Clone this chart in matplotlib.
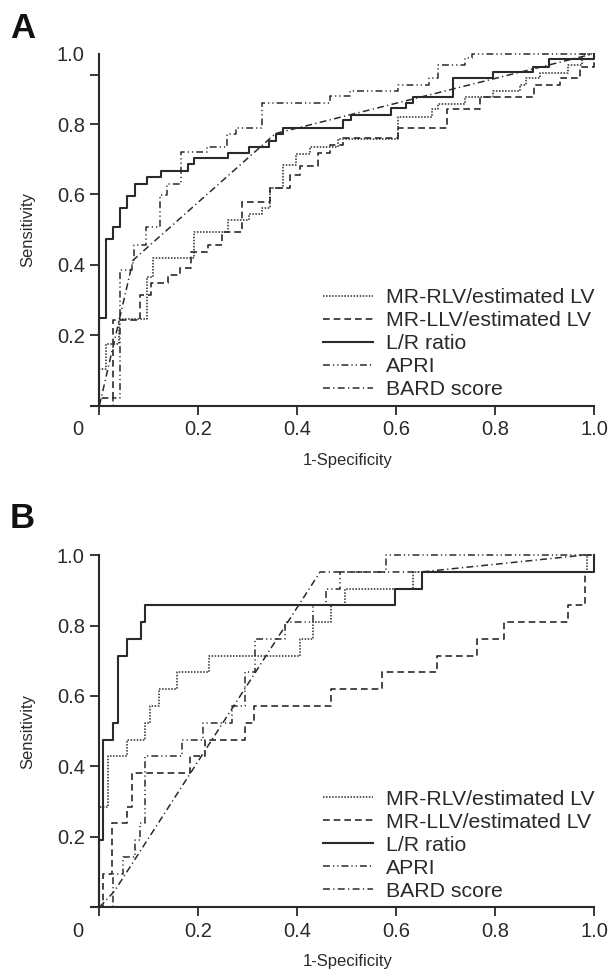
import matplotlib
matplotlib.use("Agg")
import matplotlib.pyplot as plt
from matplotlib.transforms import ScaledTranslation

plt.rcParams['font.family'] = ['Liberation Sans', 'DejaVu Sans']

labels = ["MR-RLV/estimated LV", "MR-LLV/estimated LV", "L/R ratio", "APRI", "BARD score"]
xticks = [0, 0.2, 0.4, 0.6, 0.8, 1.0]
xticklabels = ["0", "0.2", "0.4", "0.6", "0.8", "1.0"]
yticks = [0.2, 0.4, 0.6, 0.8, 1.0]
yticklabels = ["0.2", "0.4", "0.6", "0.8", "1.0"]

# panel A: (1-specificity, sensitivity) corners of each staircase
a_rlv_x = [0, 0, 0.014, 0.040, 0.097, 0.109, 0.192, 0.260, 0.302, 0.329, 0.345, 0.371, 0.398, 0.425,
           0.482, 0.604, 0.672, 0.685, 0.739, 0.796, 0.850, 0.862, 0.891, 0.948, 0.975, 1.0]
a_rlv_y = [0, 0.105, 0.176, 0.245, 0.366, 0.418, 0.494, 0.527, 0.543, 0.560, 0.617, 0.683, 0.716, 0.736,
           0.756, 0.821, 0.844, 0.858, 0.877, 0.893, 0.911, 0.930, 0.946, 0.968, 1.0, 1.0]
a_llv_x = [0, 0, 0.028, 0.082, 0.104, 0.139, 0.163, 0.185, 0.220, 0.248, 0.289, 0.345, 0.385, 0.405,
           0.442, 0.466, 0.493, 0.604, 0.702, 0.770, 0.879, 0.931, 0.972, 1.0]
a_llv_y = [0, 0.02, 0.243, 0.314, 0.347, 0.371, 0.390, 0.437, 0.456, 0.493, 0.579, 0.617, 0.654, 0.680,
           0.719, 0.740, 0.759, 0.790, 0.842, 0.877, 0.911, 0.932, 0.963, 1.0]
a_lr_x = [0, 0, 0.014, 0.028, 0.041, 0.056, 0.071, 0.097, 0.125, 0.179, 0.192, 0.260, 0.302, 0.343,
          0.356, 0.372, 0.492, 0.508, 0.589, 0.620, 0.633, 0.714, 0.796, 0.877, 0.908, 1.0]
a_lr_y = [0, 0.25, 0.474, 0.508, 0.561, 0.596, 0.630, 0.650, 0.667, 0.685, 0.703, 0.719, 0.735, 0.752,
          0.773, 0.790, 0.811, 0.825, 0.845, 0.861, 0.876, 0.930, 0.949, 0.963, 0.984, 1.0]
a_apri_x = [0, 0.028, 0.041, 0.065, 0.070, 0.095, 0.123, 0.137, 0.165, 0.217, 0.257, 0.277, 0.329,
            0.466, 0.507, 0.604, 0.666, 0.685, 0.739, 0.753, 1.0]
a_apri_y = [0, 0.02, 0.385, 0.404, 0.456, 0.508, 0.598, 0.630, 0.720, 0.736, 0.773, 0.790, 0.860,
            0.879, 0.894, 0.911, 0.930, 0.968, 0.987, 1.0, 1.0]
a_bard_x = [0, 0.068, 0.356, 1.0]
a_bard_y = [0, 0.413, 0.773, 1.0]

# panel B
b_rlv_x = [0, 0, 0.018, 0.055, 0.093, 0.102, 0.121, 0.157, 0.221, 0.405, 0.432, 0.469, 0.496, 0.634, 0.985, 1.0]
b_rlv_y = [0, 0.286, 0.429, 0.476, 0.524, 0.571, 0.619, 0.667, 0.714, 0.762, 0.810, 0.857, 0.905, 0.952, 1.0, 1.0]
b_llv_x = [0, 0.008, 0.025, 0.055, 0.065, 0.183, 0.213, 0.294, 0.312, 0.469, 0.571, 0.682, 0.763, 0.817,
           0.948, 0.982, 1.0]
b_llv_y = [0, 0.095, 0.238, 0.286, 0.381, 0.429, 0.476, 0.524, 0.571, 0.619, 0.667, 0.714, 0.762, 0.810,
           0.857, 0.952, 1.0]
b_lr_x = [0, 0, 0.008, 0.027, 0.037, 0.056, 0.084, 0.092, 0.597, 0.652, 1.0]
b_lr_y = [0, 0.190, 0.476, 0.524, 0.714, 0.762, 0.810, 0.857, 0.905, 0.952, 1.0]
b_apri_x = [0, 0.028, 0.048, 0.072, 0.082, 0.092, 0.166, 0.210, 0.267, 0.294, 0.314, 0.375, 0.432,
            0.459, 0.486, 0.580, 1.0]
b_apri_y = [0, 0.095, 0.143, 0.190, 0.238, 0.429, 0.476, 0.524, 0.571, 0.667, 0.762, 0.810, 0.857,
            0.905, 0.952, 1.0, 1.0]
b_bard_x = [0, 0.030, 0.446, 0.650, 0.980, 1.0]
b_bard_y = [0, 0.045, 0.952, 0.952, 1.0, 1.0]

ink = "#2a2a2a"
styles = [
    dict(ls=(0, (1.0, 1.0)), lw=1.1, step=True),
    dict(ls=(0, (4.0, 2.4)), lw=1.2, step=True),
    dict(ls="-", lw=1.5, step=True),
    dict(ls=(0, (4.5, 2.0, 0.8, 2.0, 0.8, 2.0)), lw=1.1, step=True),
    dict(ls=(0, (4.5, 2.2, 0.8, 2.2)), lw=1.1, step=False),
]


def draw_panel(ax, curves, odd_tick):
    for (x, y), lab, st in zip(curves, labels, styles):
        ax.plot(x, y, color=ink, linestyle=st["ls"], lw=st["lw"], label=lab, clip_on=False,
                drawstyle="steps-post" if st["step"] else "default")
    ax.set_xlim(-0.017, 1.0)
    ax.set_ylim(0, 1.0)
    ax.spines["left"].set_position(("data", 0))
    for s in ("top", "right"):
        ax.spines[s].set_visible(False)
    for s in ("left", "bottom"):
        ax.spines[s].set_color(ink)
        ax.spines[s].set_linewidth(1.5)
    ax.set_xticks(xticks)
    ax.set_xticklabels(xticklabels)
    ax.set_yticks(yticks)
    ax.set_yticklabels(yticklabels)
    ax.tick_params(axis="both", which="both", direction="out", length=6.5, width=1.3, color=ink,
                   labelsize=14.5, labelcolor=ink, pad=4)
    # the "0" label sits left of its tick in the original
    lab0 = ax.xaxis.get_major_ticks()[0].label1
    lab0.set_transform(lab0.get_transform() + ScaledTranslation(-0.22, 0, ax.figure.dpi_scale_trans))
    if odd_tick:
        ax.yaxis.get_major_ticks()[-1].tick1line.set_visible(False)
        ax.set_yticks([0.94], minor=True)
    ax.set_xlabel("1-Specificity", fontsize=12, color=ink)
    ax.set_ylabel("Sensitivity", fontsize=12, color=ink)
    ax.xaxis.set_label_coords(0.51, -0.155)
    ax.xaxis.label.set_va("center")
    ax.yaxis.set_label_coords(-0.125, 0.5)
    ax.yaxis.label.set_va("center")
    ax.legend(loc="lower right", bbox_to_anchor=(1.0, 0.018), frameon=False, fontsize=15.3,
              handlelength=2.35, handletextpad=0.6, labelspacing=0.19, borderaxespad=0.0,
              borderpad=0.0, labelcolor=ink)


fig = plt.figure(figsize=(6.13, 9.75), dpi=100)
ax_a = fig.add_axes([0.1485, 0.5841, 0.8206, 0.3609])
ax_b = fig.add_axes([0.1485, 0.0695, 0.8206, 0.3612])

draw_panel(ax_a, [(a_rlv_x, a_rlv_y), (a_llv_x, a_llv_y), (a_lr_x, a_lr_y),
                  (a_apri_x, a_apri_y), (a_bard_x, a_bard_y)], True)
draw_panel(ax_b, [(b_rlv_x, b_rlv_y), (b_llv_x, b_llv_y), (b_lr_x, b_lr_y),
                  (b_apri_x, b_apri_y), (b_bard_x, b_bard_y)], False)

fig.text(23 / 613, 1 - 28 / 975, "A", fontsize=25, fontweight="bold", ha="center", va="center", color="#111111")
fig.text(22 / 613, 1 - 518 / 975, "B", fontsize=25, fontweight="bold", ha="center", va="center", color="#111111")

fig.savefig("out.png", dpi=100)
